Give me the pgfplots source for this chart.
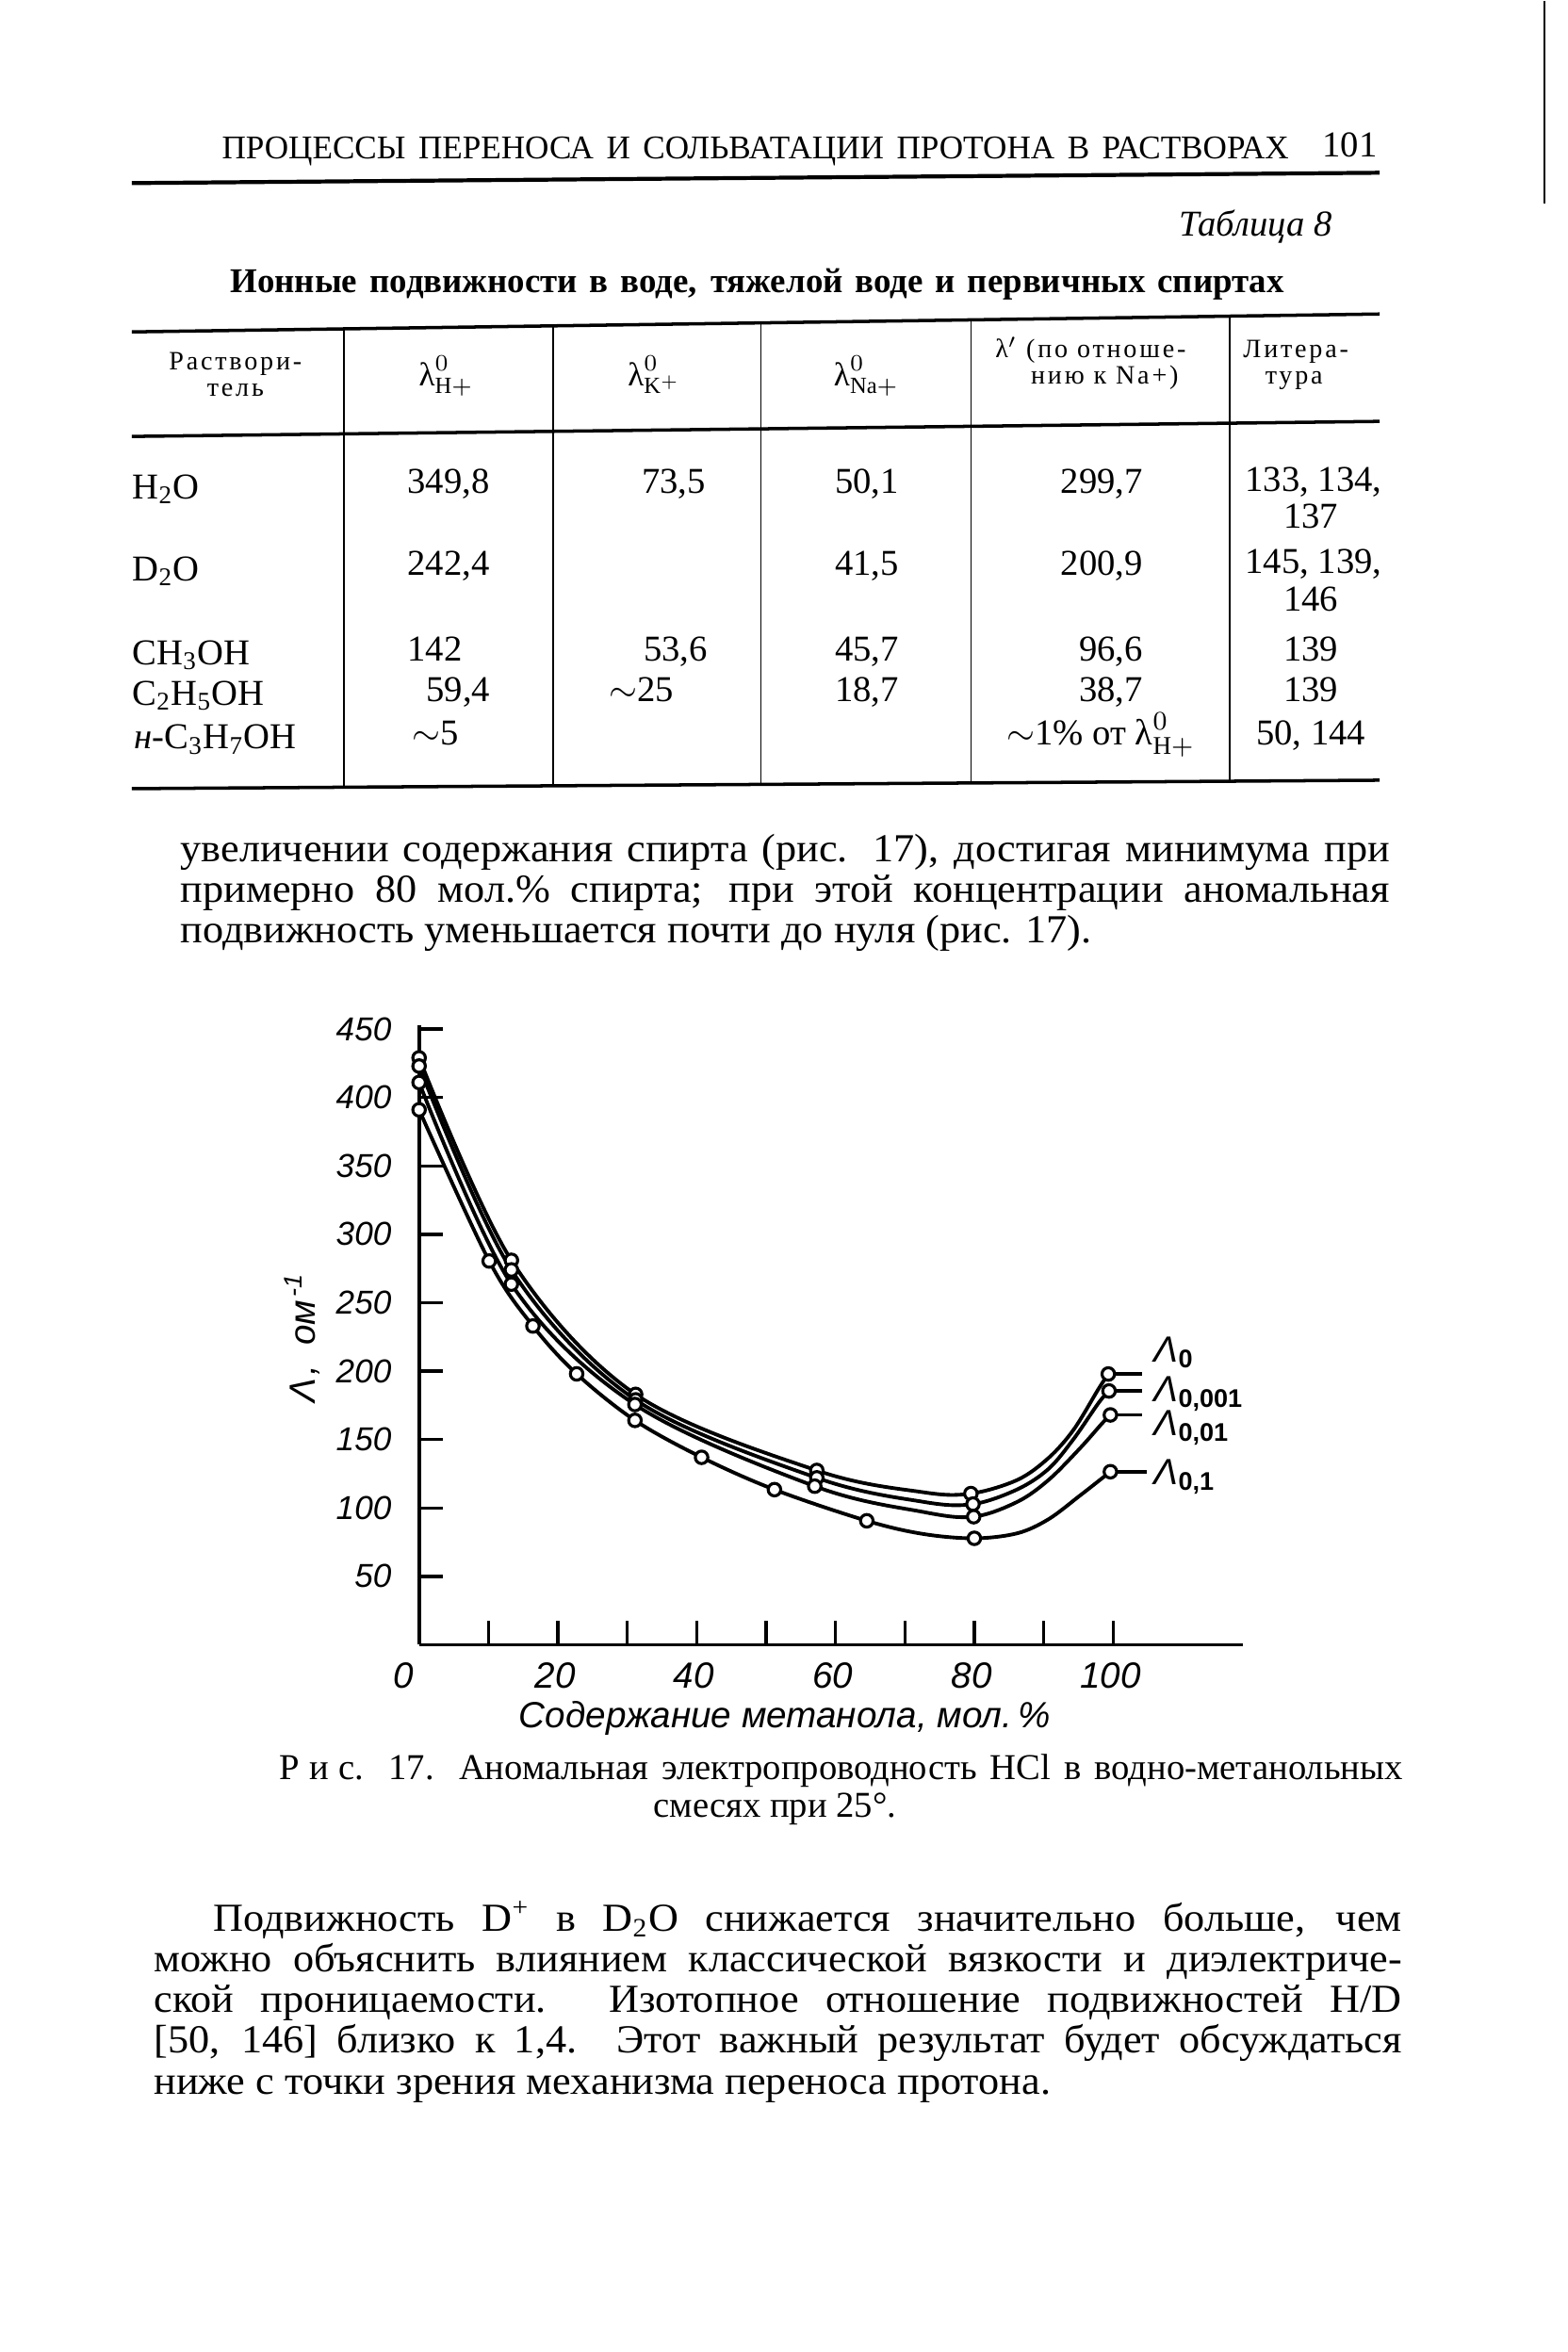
\documentclass[border=0pt]{standalone}
\usepackage{fontspec}
\setmainfont{Liberation Serif}
\newfontfamily\chartfont{Liberation Sans}
\newfontfamily\spaced[LetterSpace=10]{Liberation Serif}
\newfontfamily\bodyfont[FakeStretch=1.05]{Liberation Serif}
\usepackage{pgfplots}
\pgfplotsset{compat=1.18}
\newcommand\fs[1]{\fontsize{#1}{#1}\selectfont}
\newcommand\tickx{\chartfont\itshape\fs{11}}
\newcommand\ticky{\chartfont\itshape\fs{10}}
\pgfplotsset{ptmark/.style={only marks, mark=*, mark size=1.9pt,
  mark options={fill=white, draw=black, line width=0.9pt}}}
\begin{document}
\begin{tikzpicture}
\path[fill=white] (0,0) rectangle (16.64,-24.96);
\draw[line width=0.8pt] (16.40,0) -- (16.40,-2.15);

% page header
\node[anchor=base west, inner sep=0] at (2.35,-1.67) {\fs{10}\makebox[11.33cm][s]{ПРОЦЕССЫ ПЕРЕНОСА И СОЛЬВАТАЦИИ ПРОТОНА В РАСТВОРАХ}};
\node[anchor=base east, inner sep=0] at (14.63,-1.65) {\fs{11}101};
\draw[line width=1.2pt] (1.40,-1.93) -- (14.65,-1.82);

% table title
\node[anchor=base east, inner sep=0] at (14.15,-2.49) {\fs{11}\textit{Таблица 8}};
\node[anchor=base west, inner sep=0] at (2.44,-3.09) {\fs{10.5}\bfseries\makebox[11.19cm][s]{Ионные подвижности в воде, тяжелой воде и первичных спиртах}};

% table rules
\draw[line width=1pt] (1.40,-3.51) -- (14.65,-3.32);
\draw[line width=1pt] (1.40,-4.62) -- (14.65,-4.46);
\draw[line width=1pt] (1.40,-8.36) -- (14.65,-8.27);
\foreach \x/\yt/\yb in {3.65/3.478/8.345, 5.87/3.446/8.330, 8.08/3.414/8.315, 10.31/3.382/8.300, 13.06/3.343/8.280}
  \draw[line width=0.5pt] (\x,-\yt) -- (\x,-\yb);

% table header
\begin{scope}[every node/.style={inner sep=0, anchor=base}]
\node at (2.50,-3.91) {\spaced\fs{8}Раствори-};
\node at (2.50,-4.19) {\spaced\fs{8}тель};
\node at (4.74,-4.08) {\fs{10}$\mbox{λ}^{0}_{\mathrm{H}+}$};
\node at (6.95,-4.08) {\fs{10}$\mbox{λ}^{0}_{\mathrm{K}^{+}}$};
\node at (9.20,-4.08) {\fs{10}$\mbox{λ}^{0}_{\mathrm{Na}+}$};
\node at (11.58,-3.78) {\spaced\fs{8}λ$'$ (по отноше-};
\node at (11.73,-4.06) {\spaced\fs{8}нию к Na+)};
\node at (13.76,-3.78) {\spaced\fs{8}Литера-};
\node at (13.74,-4.06) {\spaced\fs{8}тура};
\end{scope}

% table body
\begin{scope}[every node/.style={inner sep=0}, font=\fs{11}]
\node[anchor=base west] at (1.40,-5.28) {H\textsubscript{2}O};
\node[anchor=base west] at (1.40,-6.15) {D\textsubscript{2}O};
\node[anchor=base west] at (1.40,-7.04) {CH\textsubscript{3}OH};
\node[anchor=base west] at (1.40,-7.47) {C\textsubscript{2}H\textsubscript{5}OH};
\node[anchor=base west] at (1.42,-7.94) {\textit{н}-C\textsubscript{3}H\textsubscript{7}OH};
\node[anchor=base west] at (4.32,-5.22) {349,8};
\node[anchor=base west] at (4.32,-6.09) {242,4};
\node[anchor=base west] at (4.32,-7.00) {142};
\node[anchor=base east] at (5.21,-7.43) {59,4};
\node[anchor=base west] at (4.37,-7.90) {$\sim$5};
\node[anchor=base east] at (7.50,-5.22) {73,5};
\node[anchor=base east] at (7.52,-7.00) {53,6};
\node[anchor=base east] at (7.16,-7.43) {$\sim$25};
\node[anchor=base east] at (9.55,-5.22) {50,1};
\node[anchor=base east] at (9.55,-6.09) {41,5};
\node[anchor=base east] at (9.55,-7.00) {45,7};
\node[anchor=base east] at (9.55,-7.43) {18,7};
\node[anchor=base east] at (12.14,-5.22) {299,7};
\node[anchor=base east] at (12.14,-6.09) {200,9};
\node[anchor=base east] at (12.14,-7.00) {96,6};
\node[anchor=base east] at (12.14,-7.43) {38,7};
\node[anchor=base] at (11.69,-7.90) {$\sim$1\% от $\mbox{λ}^{0}_{\mathrm{H}+}$};
\node[anchor=base east] at (14.68,-5.20) {133, 134,};
\node[anchor=base] at (13.92,-5.59) {137};
\node[anchor=base east] at (14.68,-6.07) {145, 139,};
\node[anchor=base] at (13.92,-6.47) {146};
\node[anchor=base] at (13.92,-7.00) {139};
\node[anchor=base] at (13.92,-7.43) {139};
\node[anchor=base] at (13.92,-7.90) {50, 144};
\end{scope}

% paragraph before the figure
\begin{scope}[every node/.style={inner sep=0, anchor=base west}, font=\bodyfont\fs{12}]
\node at (1.91,-9.14) {\makebox[12.84cm][s]{увеличении содержания спирта (рис. 17), достигая минимума при}};
\node at (1.91,-9.57) {\makebox[12.84cm][s]{примерно 80 мол.\% спирта; при этой концентрации аномальная}};
\node at (1.91,-10.00) {подвижность уменьшается почти до нуля (рис. 17).};
\end{scope}

\begin{axis}[
    at={(4.45cm,-17.45cm)}, anchor=south west,
    x=0.0737cm, y=0.01452cm,
    xmin=0, xmax=118.7, ymin=0, ymax=452.5,
    enlargelimits=false, clip=false,
    axis lines=left, axis line style={-, line width=1pt},
    tick align=inside, major tick length=0.25cm,
    tick style={line width=1pt, black},
    xtick={10,20,...,100},
    xticklabels={,20,,40,,60,,80,,100},
    extra x ticks={0}, extra x tick labels={0},
    extra x tick style={major tick length=0pt, xticklabel style={xshift=-0.14cm}},
    ytick={50,100,...,450},
    /pgf/number format/assume math mode=true,
    xticklabel style={font=\tickx, yshift=-0.07cm, xshift=-0.03cm},
    yticklabel style={font=\ticky, xshift=-0.17cm},
    xlabel={Содержание метанола, мол.\,\%},
    xlabel style={font=\chartfont\itshape\fs{11}, at={(rel axis cs:0.444,-0.119)}, anchor=center},
    ylabel={Λ\kern1pt,\kern6pt ом\textsuperscript{\kern1pt-1}},
    ylabel style={font=\chartfont\itshape\fs{11}, at={(rel axis cs:-0.142,0.496)}, anchor=center},
]
% curves
\addplot[line width=1.1pt, smooth, tension=0.55] coordinates {
  (0,429) (13.3,281) (31.2,183) (57.3,127.4) (72.6,111.5) (79.5,110.5)
  (86.2,120.5) (90.7,136.6) (94.3,157.2) (97.9,187.1) (99.3,197.9)};
\addplot[line width=1.1pt, smooth, tension=0.55] coordinates {
  (0,423) (13.3,274) (31.2,179) (57.3,122) (72.6,104.5) (79.8,102.8)
  (86.2,113.6) (90.7,128.6) (94.3,150.4) (97.9,176.8) (99.4,185.5)};
\addplot[line width=1.1pt, smooth, tension=0.55] coordinates {
  (0,411) (13.3,263.6) (31.1,175.6) (57,115.9) (72.6,97.1) (79.9,93.6)
  (86.2,104.5) (90.7,120.5) (95.2,143.5) (98.4,161.8) (99.6,168)};
\addplot[line width=1.1pt, smooth, tension=0.55] coordinates {
  (0,391) (10.1,280.5) (16.4,233) (22.7,198) (31.1,164) (40.7,137)
  (51.2,113.4) (64.5,90.6) (72.6,81) (80,77.8) (86.2,81.5) (90.7,91.8)
  (95.2,109) (98.4,121.7) (99.6,126.5)};
% short leaders to the labels
\addplot[line width=1.1pt] coordinates {(99.3,197.9) (104.2,197.9)};
\addplot[line width=1.1pt] coordinates {(99.4,185.5) (104.2,185.5)};
\addplot[line width=1.1pt] coordinates {(99.6,168) (104.2,168)};
\addplot[line width=1.1pt] coordinates {(99.6,126.5) (104.8,126.5)};
% measured points
\addplot[ptmark] coordinates {(0,429) (13.3,281) (31.2,183) (57.3,127.4) (79.5,110.5) (99.3,197.9)};
\addplot[ptmark] coordinates {(0,423) (13.3,274) (31.2,179) (57.3,122) (79.8,102.8) (99.4,185.5)};
\addplot[ptmark] coordinates {(0,411) (13.3,263.6) (31.1,175.6) (57,115.9) (79.9,93.6) (99.6,168)};
\addplot[ptmark] coordinates {(0,391) (10.1,280.5) (16.4,233) (22.7,198) (31.1,164) (40.7,137)
  (51.2,113.4) (64.5,90.6) (80,77.8) (99.6,126.5)};
% curve labels
\node[anchor=base west, inner sep=0, font=\chartfont\itshape\fs{11}] at (axis cs:105.8,206.6) {Λ\textsubscript{\upshape\bfseries 0}};
\node[anchor=base west, inner sep=0, font=\chartfont\itshape\fs{11}] at (axis cs:105.8,177.7) {Λ\textsubscript{\upshape\bfseries 0,001}};
\node[anchor=base west, inner sep=0, font=\chartfont\itshape\fs{11}] at (axis cs:105.8,152.9) {Λ\textsubscript{\upshape\bfseries 0,01}};
\node[anchor=base west, inner sep=0, font=\chartfont\itshape\fs{11}] at (axis cs:105.8,117.1) {Λ\textsubscript{\upshape\bfseries 0,1}};
\end{axis}

% caption
\node[anchor=base west, inner sep=0] at (2.96,-18.88) {\fs{11}\makebox[11.93cm][s]{Р\kern3pt и\kern3pt с. 17. Аномальная электропроводность HCl в водно-метанольных}};
\node[anchor=base, inner sep=0] at (8.23,-19.28) {\fs{11}смесях при 25°.};

% paragraph after the figure
\begin{scope}[every node/.style={inner sep=0, anchor=base west}, font=\bodyfont\fs{12}]
\node at (2.26,-20.49) {\makebox[12.62cm][s]{Подвижность D\textsuperscript{+} в D\textsubscript{2}O снижается значительно больше, чем}};
\node at (1.63,-20.92) {\makebox[13.25cm][s]{можно объяснить влиянием классической вязкости и диэлектриче-}};
\node at (1.63,-21.35) {\makebox[13.25cm][s]{ской проницаемости. Изотопное отношение подвижностей H/D}};
\node at (1.63,-21.78) {\makebox[13.25cm][s]{[50, 146] близко к 1,4. Этот важный результат будет обсуждаться}};
\node at (1.63,-22.22) {ниже с точки зрения механизма переноса протона.};
\end{scope}
\end{tikzpicture}
\end{document}
